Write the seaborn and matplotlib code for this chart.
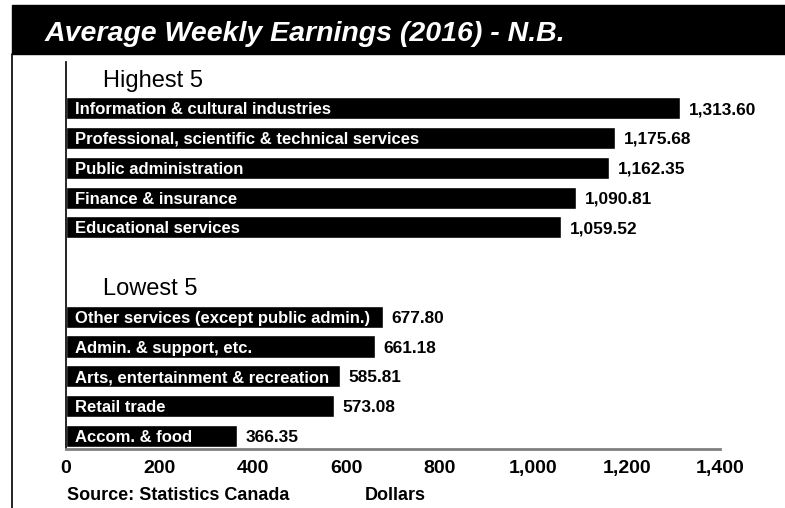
import matplotlib
matplotlib.use("Agg")
import matplotlib.pyplot as plt
from matplotlib.patches import Rectangle
from matplotlib.lines import Line2D
import pandas as pd
import seaborn as sns

# Data
high_labels = [
    "Information & cultural industries",
    "Professional, scientific & technical services",
    "Public administration",
    "Finance & insurance",
    "Educational services",
]
high_values = [1313.60, 1175.68, 1162.35, 1090.81, 1059.52]

low_labels = [
    "Other services (except public admin.)",
    "Admin. & support, etc.",
    "Arts, entertainment & recreation",
    "Retail trade",
    "Accom. & food",
]
low_values = [677.80, 661.18, 585.81, 573.08, 366.35]

group_titles = ["Highest 5", "Lowest 5"]
x_ticks = [0, 200, 400, 600, 800, 1000, 1200, 1400]
title = "Average Weekly Earnings (2016) - N.B."
source = "Source: Statistics Canada"
x_label = "Dollars"

sns.set_style("white")
plt.rcParams["font.family"] = ["Liberation Sans", "DejaVu Sans"]
plt.rcParams["text.color"] = "black"

df = pd.DataFrame({
    "label": high_labels + low_labels,
    "value": high_values + low_values,
})
# row order with header rows and a spacer row between the groups
order = ["_h1"] + high_labels + ["_gap", "_h2"] + low_labels

W, H = 785, 508
fig = plt.figure(figsize=(W / 100, H / 100), dpi=100)

ax_left, ax_right, ax_top, ax_bottom = 66, 720, 62, 449
ax = fig.add_axes([ax_left / W, 1 - ax_bottom / H,
                   (ax_right - ax_left) / W, (ax_bottom - ax_top) / H])

sns.barplot(data=df, x="value", y="label", order=order, orient="h",
            color="black", width=0.74, saturation=1, ax=ax)

ax.set_xlim(0, 1400)
ax.set_ylim(12.44, -0.55)
ax.set_xticks(x_ticks)
ax.set_xticklabels([f"{t:,}" for t in x_ticks], fontsize=14, fontweight="bold",
                   color="black")
ax.tick_params(axis="x", length=0, pad=8)
ax.set_yticks([])
ax.set_xlabel("")
ax.set_ylabel("")
for s in ["top", "right"]:
    ax.spines[s].set_visible(False)
ax.spines["left"].set_color("black")
ax.spines["left"].set_linewidth(1.2)
ax.spines["bottom"].set_color("#808080")
ax.spines["bottom"].set_linewidth(2)

# labels inside and beside the bars
for i, lab in enumerate(order):
    if lab in df["label"].values:
        v = df.loc[df["label"] == lab, "value"].iloc[0]
        ax.text(19, i, lab, color="white", fontsize=12, fontweight="bold",
                va="center_baseline", ha="left")
        ax.text(v + 19, i, f"{v:,.2f}", color="black", fontsize=12.4,
                fontweight="bold", va="center_baseline", ha="left")

ax.text(79, order.index("_h1"), group_titles[0], fontsize=17, color="black",
        va="center_baseline", ha="left")
ax.text(79, order.index("_h2"), group_titles[1], fontsize=17, color="black",
        va="center_baseline", ha="left")

# title bar and frame line
fig.patches.append(Rectangle((12 / W, 1 - 54 / H), 1 - 12 / W, 49 / H,
                             transform=fig.transFigure, color="black", zorder=0))
fig.lines.append(Line2D([12 / W, 12 / W], [0, 1 - 54 / H], transform=fig.transFigure,
                        color="black", linewidth=1.2))
fig.text(45 / W, 1 - 31 / H, title, color="white", fontsize=20.5, fontweight="bold",
         fontstyle="italic", va="center_baseline", ha="left")

fig.text(67 / W, 1 - 493 / H, source, fontsize=13, fontweight="bold",
         va="center_baseline", ha="left")
fig.text(365 / W, 1 - 493 / H, x_label, fontsize=13, fontweight="bold",
         va="center_baseline", ha="left")

fig.savefig("out.png", dpi=100)
